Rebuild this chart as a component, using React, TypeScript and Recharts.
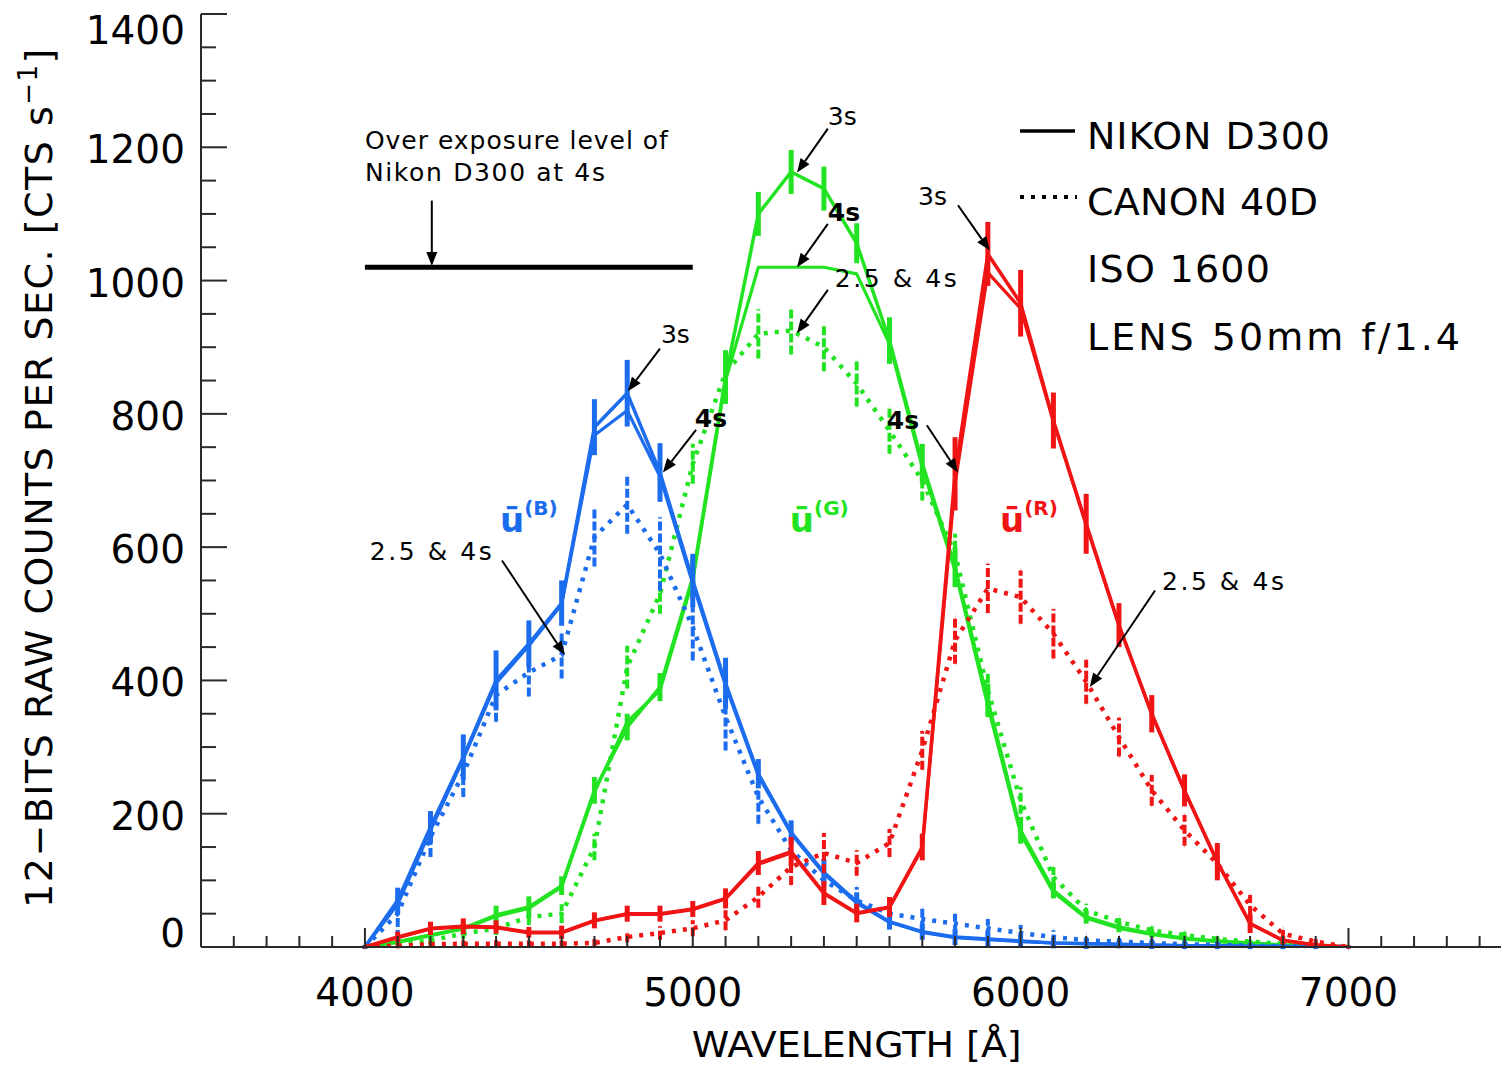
import React from 'react';
import { ComposedChart, Line, XAxis, YAxis, ErrorBar, ReferenceLine, ReferenceDot, Legend } from 'recharts';

// ---------------- DATA ----------------
const wavelengths = [4000, 4100, 4200, 4300, 4400, 4500, 4600, 4700, 4800, 4900, 5000, 5100, 5200, 5300, 5400, 5500, 5600, 5700, 5800, 5900, 6000, 6100, 6200, 6300, 6400, 6500, 6600, 6700, 6800, 6900, 7000];

const blueNikon3s = [0, 70, 180, 285, 400, 455, 516, 780, 831, 712, 550, 396, 260, 172, 112, 68, 38, 23, 15, 12, 9, 6, 5, 4, 3, 2, 2, 1, 1, 0, 0];
const blueNikon4s = [0, 64, 175, 282, 396, 452, 514, 768, 805, 706, 545, 392, 257, 170, 110, 66, 37, 22, 14, 11, 8, 6, 5, 4, 3, 2, 2, 1, 1, 0, 0];
const blueCanon = [0, 50, 165, 260, 378, 412, 438, 615, 664, 590, 480, 345, 225, 145, 100, 70, 50, 42, 35, 28, 21, 15, 10, 8, 6, 4, 3, 2, 1, 1, 0];
const blueNikonErr = [3, 19, 24, 34, 45, 35, 34, 42, 50, 44, 40, 38, 22, 18, 20, 14, 12, 12, 12, 12, 10, 8, 8, 6, 6, 5, 5, 4, 4, 3, 2];
const blueCanonErr = [3, 38, 30, 35, 40, 36, 35, 44, 44, 55, 50, 50, 40, 30, 25, 20, 18, 16, 15, 14, 12, 10, 9, 8, 7, 6, 5, 4, 4, 3, 2];

const greenNikon3s = [0, 8, 18, 28, 48, 60, 92, 235, 330, 390, 555, 855, 1100, 1163, 1138, 1056, 910, 726, 570, 370, 175, 85, 45, 30, 20, 13, 9, 6, 3, 1, 0];
const greenNikon4s = [0, 7, 17, 27, 46, 58, 90, 232, 338, 385, 550, 850, 1020, 1020, 1020, 1010, 905, 720, 565, 362, 170, 82, 43, 28, 19, 12, 8, 5, 3, 1, 0];
const greenCanon = [0, 3, 10, 20, 28, 45, 50, 150, 420, 530, 725, 862, 920, 925, 900, 845, 775, 700, 590, 385, 220, 105, 55, 38, 25, 18, 12, 8, 5, 2, 0];
const greenNikonErr = [2, 5, 8, 10, 14, 16, 14, 20, 20, 21, 30, 40, 33, 33, 33, 30, 35, 29, 30, 25, 20, 12, 10, 8, 6, 5, 4, 3, 3, 2, 1];
const greenCanonErr = [2, 4, 6, 8, 10, 12, 14, 20, 32, 30, 30, 34, 37, 36, 36, 34, 35, 30, 30, 25, 20, 15, 10, 8, 6, 5, 4, 3, 3, 2, 1];

const redNikon3s = [0, 15, 28, 31, 30, 22, 22, 40, 50, 50, 57, 73, 126, 143, 81, 51, 60, 150, 710, 1040, 966, 790, 635, 483, 350, 235, 128, 35, 10, 3, 0];
const redNikon4s = [0, 14, 27, 30, 29, 21, 21, 39, 49, 49, 56, 72, 124, 141, 80, 50, 59, 148, 695, 1012, 958, 788, 633, 482, 349, 234, 127, 35, 10, 3, 0];
const redCanon = [0, 2, 4, 5, 5, 5, 5, 6, 15, 21, 28, 40, 75, 120, 141, 126, 156, 295, 460, 538, 525, 470, 398, 315, 235, 175, 125, 63, 20, 8, 0];
const redNikonErr = [2, 8, 10, 12, 10, 8, 10, 12, 12, 12, 12, 15, 18, 22, 18, 14, 15, 20, 55, 48, 50, 42, 45, 33, 28, 24, 28, 14, 6, 4, 2];
const redCanonErr = [2, 4, 5, 5, 5, 5, 5, 6, 8, 10, 12, 15, 16, 27, 30, 19, 21, 29, 35, 37, 40, 37, 33, 29, 23, 23, 20, 15, 8, 4, 2];

const saturationLevel = 1020;

const xMajorTicks = [4000, 5000, 6000, 7000];
const xTickLabels = ['4000', '5000', '6000', '7000'];
const xAllTicks = [3600, 3700, 3800, 3900, 4000, 4100, 4200, 4300, 4400, 4500, 4600, 4700, 4800, 4900, 5000, 5100, 5200, 5300, 5400, 5500, 5600, 5700, 5800, 5900, 6000, 6100, 6200, 6300, 6400, 6500, 6600, 6700, 6800, 6900, 7000, 7100, 7200, 7300, 7400];
const yMajorTicks = [0, 200, 400, 600, 800, 1000, 1200, 1400];
const yTickLabels = ['0', '200', '400', '600', '800', '1000', '1200', '1400'];
const yAllTicks = [0, 50, 100, 150, 200, 250, 300, 350, 400, 450, 500, 550, 600, 650, 700, 750, 800, 850, 900, 950, 1000, 1050, 1100, 1150, 1200, 1250, 1300, 1350, 1400];

const data = wavelengths.map((w, i) => ({
  w,
  b3: blueNikon3s[i], b4: blueNikon4s[i], bc: blueCanon[i], b3e: blueNikonErr[i], bce: blueCanonErr[i],
  g3: greenNikon3s[i], g4: greenNikon4s[i], gc: greenCanon[i], g3e: greenNikonErr[i], gce: greenCanonErr[i],
  r3: redNikon3s[i], r4: redNikon4s[i], rc: redCanon[i], r3e: redNikonErr[i], rce: redCanonErr[i],
}));

// ---------------- STYLE ----------------
const BLUE = '#1c6cee';
const GREEN = '#22e322';
const RED = '#f01414';
const AXIS = '#2a2a2a';
const FONT = '"DejaVu Sans", sans-serif';

// annotations (data coordinates)
const annotations = [
  { text: '3s', x: 4903, y: 906, bold: false, len: 0, a: [4900, 898, 4802, 834] },
  { text: '4s', x: 5006, y: 780, bold: true, len: 0, a: [5010, 776, 4909, 712] },
  { text: '2.5 & 4s', x: 4015, y: 580, bold: false, len: 122, a: [4418, 580, 4610, 438] },
  { text: '3s', x: 5412, y: 1233, bold: false, len: 0, a: [5412, 1228, 5318, 1162] },
  { text: '4s', x: 5412, y: 1090, bold: true, len: 0, a: [5412, 1085, 5318, 1020] },
  { text: '2.5 & 4s', x: 5433, y: 990, bold: false, len: 122, a: [5412, 986, 5318, 921] },
  { text: '4s', x: 5592, y: 778, bold: true, len: 0, a: [5714, 783, 5809, 712] },
  { text: '3s', x: 5687, y: 1113, bold: false, len: 0, a: [5809, 1113, 5906, 1045] },
  { text: '2.5 & 4s', x: 6431, y: 535, bold: false, len: 122, a: [6410, 535, 6211, 390] },
];
const overNote = [
  { text: 'Over exposure level of', x: 4000, y: 1198, len: 303 },
  { text: 'Nikon D300 at 4s', x: 4000, y: 1149, len: 240 },
];
const overArrow = [4204, 1120, 4204, 1022];
const seriesLabels = [
  { name: 'B', color: BLUE, x: 4412, y: 622 },
  { name: 'G', color: GREEN, x: 5296, y: 622 },
  { name: 'R', color: RED, x: 5937, y: 622 },
];

// ---------------- AXIS TICKS ----------------
const BottomTick = (props: any) => {
  const { x, y, payload } = props;
  const v = payload.value;
  const idx = xMajorTicks.indexOf(v);
  const major = idx >= 0;
  return (
    <g>
      <line x1={x} x2={x} y1={y} y2={y - (major ? 19 : 11)} stroke={AXIS} strokeWidth={2} />
      {major && (
        <text x={x} y={y + 59} textAnchor="middle" fontSize={39} fontFamily={FONT} fill="#000">
          {xTickLabels[idx]}
        </text>
      )}
    </g>
  );
};
const TopTick = (props: any) => {
  const { x, y, payload } = props;
  const major = xMajorTicks.indexOf(payload.value) >= 0;
  return <line x1={x} x2={x} y1={y} y2={y + (major ? 19 : 11)} stroke={AXIS} strokeWidth={2} />;
};
const LeftTick = (props: any) => {
  const { x, y, payload } = props;
  const v = payload.value;
  const idx = yMajorTicks.indexOf(v);
  const major = idx >= 0;
  let dy = 16;
  if (v === 0) dy = 0;
  if (v === 1400) dy = 30;
  return (
    <g>
      <line x1={x} x2={x + (major ? 26 : 15)} y1={y} y2={y} stroke={AXIS} strokeWidth={2} />
      {major && (
        <text x={x - 16} y={y + dy} textAnchor="end" fontSize={39} fontFamily={FONT} fill="#000">
          {yTickLabels[idx]}
        </text>
      )}
    </g>
  );
};
const RightTick = (props: any) => {
  const { x, y, payload } = props;
  const major = yMajorTicks.indexOf(payload.value) >= 0;
  return <line x1={x} x2={x - (major ? 26 : 15)} y1={y} y2={y} stroke={AXIS} strokeWidth={2} />;
};

const XTitle = (props: any) => {
  const vb = props.viewBox || { x: 201, y: 947, width: 1311, height: 120 };
  return (
    <text x={vb.x + vb.width / 2} y={vb.y + 110} textAnchor="middle" fontSize={36} fontFamily={FONT}
      fill="#000" textLength={330} lengthAdjust="spacingAndGlyphs">
      WAVELENGTH [Å]
    </text>
  );
};
const YTitle = (props: any) => {
  const vb = props.viewBox || { x: 0, y: 14, width: 201, height: 933 };
  const cx = vb.x + 52;
  const cy = vb.y + vb.height / 2 - 3;
  return (
    <text x={cx} y={cy} transform={`rotate(-90 ${cx} ${cy})`} textAnchor="middle" fontSize={38}
      fontFamily={FONT} fill="#000" letterSpacing={1.5}>
      12−BITS RAW COUNTS PER SEC. [CTS s
      <tspan dy={-15} fontSize={26}>−1</tspan>
      <tspan dy={15}>]</tspan>
    </text>
  );
};

const Arrow = (p: any) => {
  const { x1, y1, x2, y2 } = p;
  const ang = Math.atan2(y2 - y1, x2 - x1);
  const L = 14;
  const W = 5.5;
  const bx = x2 - L * Math.cos(ang);
  const by = y2 - L * Math.sin(ang);
  const pts = `${x2},${y2} ${bx + W * Math.sin(ang)},${by - W * Math.cos(ang)} ${bx - W * Math.sin(ang)},${by + W * Math.cos(ang)}`;
  return (
    <g>
      <line x1={x1} y1={y1} x2={bx} y2={by} stroke="#000" strokeWidth={2} />
      <polygon points={pts} fill="#000" />
    </g>
  );
};

const LegendBox = () => (
  <svg width={480} height={270} style={{ display: 'block', overflow: 'visible' }}>
    <line x1={10} x2={65} y1={31} y2={31} stroke="#000" strokeWidth={3.5} />
    <text x={77} y={49} fontSize={38} fontFamily={FONT} fill="#000" textLength={243} lengthAdjust="spacing">NIKON D300</text>
    <line x1={10} x2={67} y1={97} y2={97} stroke="#000" strokeWidth={4} strokeDasharray="4 7" />
    <text x={77} y={115} fontSize={38} fontFamily={FONT} fill="#000" textLength={231} lengthAdjust="spacing">CANON 40D</text>
    <text x={77} y={182} fontSize={38} fontFamily={FONT} fill="#000" textLength={183} lengthAdjust="spacing">ISO 1600</text>
    <text x={77} y={250} fontSize={38} fontFamily={FONT} fill="#000" textLength={373} lengthAdjust="spacing">LENS 50mm f/1.4</text>
  </svg>
);

function colorGroup(color: string, k3: string, k4: string, kc: string, e3: string, ec: string) {
  return [
    <Line key={kc} dataKey={kc} type="linear" stroke={color} strokeWidth={4.5} strokeDasharray="4 7" dot={false}
      isAnimationActive={false} legendType="none">
      <ErrorBar dataKey={ec} width={0} stroke={color} strokeWidth={4} strokeDasharray="9 3" direction="y" isAnimationActive={false} />
    </Line>,
    <Line key={k4} dataKey={k4} type="linear" stroke={color} strokeWidth={3.2} dot={false}
      isAnimationActive={false} legendType="none" strokeLinejoin="round" />,
    <Line key={k3} dataKey={k3} type="linear" stroke={color} strokeWidth={3.5} dot={false}
      isAnimationActive={false} legendType="none" strokeLinejoin="round">
      <ErrorBar dataKey={e3} width={0} stroke={color} strokeWidth={5} direction="y" isAnimationActive={false} />
    </Line>,
  ];
}

export default function App() {
  return (
    <div style={{ position: 'fixed', left: 0, top: 0, width: 1501, height: 1067, overflow: 'hidden', background: '#fff' }}>
      <ComposedChart width={1540} height={1067} data={data} margin={{ top: 14, right: 27.6, bottom: 0, left: 0 }}>
        <XAxis dataKey="w" type="number" domain={[3500, 7500]} allowDataOverflow ticks={xAllTicks} interval={0}
          tickSize={0} tickMargin={0} tickLine={false} height={120} axisLine={{ stroke: AXIS, strokeWidth: 2 }}
          tick={BottomTick} label={<XTitle />} />
        <XAxis xAxisId="top" orientation="top" dataKey="w" type="number" domain={[3500, 7500]} allowDataOverflow
          ticks={xAllTicks} interval={0} tickSize={0} tickMargin={0} tickLine={false} height={0}
          axisLine={{ stroke: AXIS, strokeWidth: 2 }} tick={TopTick} />
        <YAxis type="number" domain={[0, 1400]} allowDataOverflow ticks={yAllTicks} interval={0} width={201}
          tickSize={0} tickMargin={0} tickLine={false} axisLine={{ stroke: AXIS, strokeWidth: 2 }}
          tick={LeftTick} label={<YTitle />} />
        <YAxis yAxisId="right" orientation="right" type="number" domain={[0, 1400]} allowDataOverflow ticks={yAllTicks}
          interval={0} width={0} tickSize={0} tickMargin={0} tickLine={false} axisLine={{ stroke: AXIS, strokeWidth: 2 }}
          tick={RightTick} />

        {colorGroup(GREEN, 'g3', 'g4', 'gc', 'g3e', 'gce')}
        {colorGroup(BLUE, 'b3', 'b4', 'bc', 'b3e', 'bce')}
        {colorGroup(RED, 'r3', 'r4', 'rc', 'r3e', 'rce')}

        <ReferenceLine segment={[{ x: 4000, y: saturationLevel }, { x: 5000, y: saturationLevel }]}
          stroke="#000" strokeWidth={5} ifOverflow="visible" />
        <ReferenceLine segment={[{ x: overArrow[0], y: overArrow[1] }, { x: overArrow[2], y: overArrow[3] }]}
          ifOverflow="visible" shape={(p: any) => <Arrow {...p} />} />
        {overNote.map((n, i) => (
          <ReferenceDot key={'on' + i} x={n.x} y={n.y} r={0} ifOverflow="visible"
            shape={(p: any) => (
              <text x={p.cx} y={p.cy} fontSize={25} fontFamily={FONT} fill="#000" textLength={n.len} lengthAdjust="spacing">{n.text}</text>
            )} />
        ))}
        {annotations.map((a, i) => (
          <ReferenceLine key={'ar' + i} segment={[{ x: a.a[0], y: a.a[1] }, { x: a.a[2], y: a.a[3] }]}
            ifOverflow="visible" shape={(p: any) => <Arrow {...p} />} />
        ))}
        {annotations.map((a, i) => (
          <ReferenceDot key={'at' + i} x={a.x} y={a.y} r={0} ifOverflow="visible"
            shape={(p: any) => (
              <text x={p.cx} y={p.cy} fontSize={25} fontFamily={FONT} fontWeight={a.bold ? 'bold' : 'normal'} fill="#000"
                {...(a.len ? { textLength: a.len, lengthAdjust: 'spacing' } : {})}>{a.text}</text>
            )} />
        ))}
        {seriesLabels.map((s) => (
          <ReferenceDot key={'sl' + s.name} x={s.x} y={s.y} r={0} ifOverflow="visible"
            shape={(p: any) => (
              <text x={p.cx} y={p.cy} fontSize={34} fontWeight="bold" fontFamily={FONT} fill={s.color}>
                ū<tspan dy={-17} fontSize={20}>({s.name})</tspan>
              </text>
            )} />
        ))}
        <Legend layout="horizontal" verticalAlign="middle" align="center"
          wrapperStyle={{ left: 1010, top: 100, width: 480, height: 270 }} content={() => <LegendBox />} />
      </ComposedChart>
    </div>
  );
}
